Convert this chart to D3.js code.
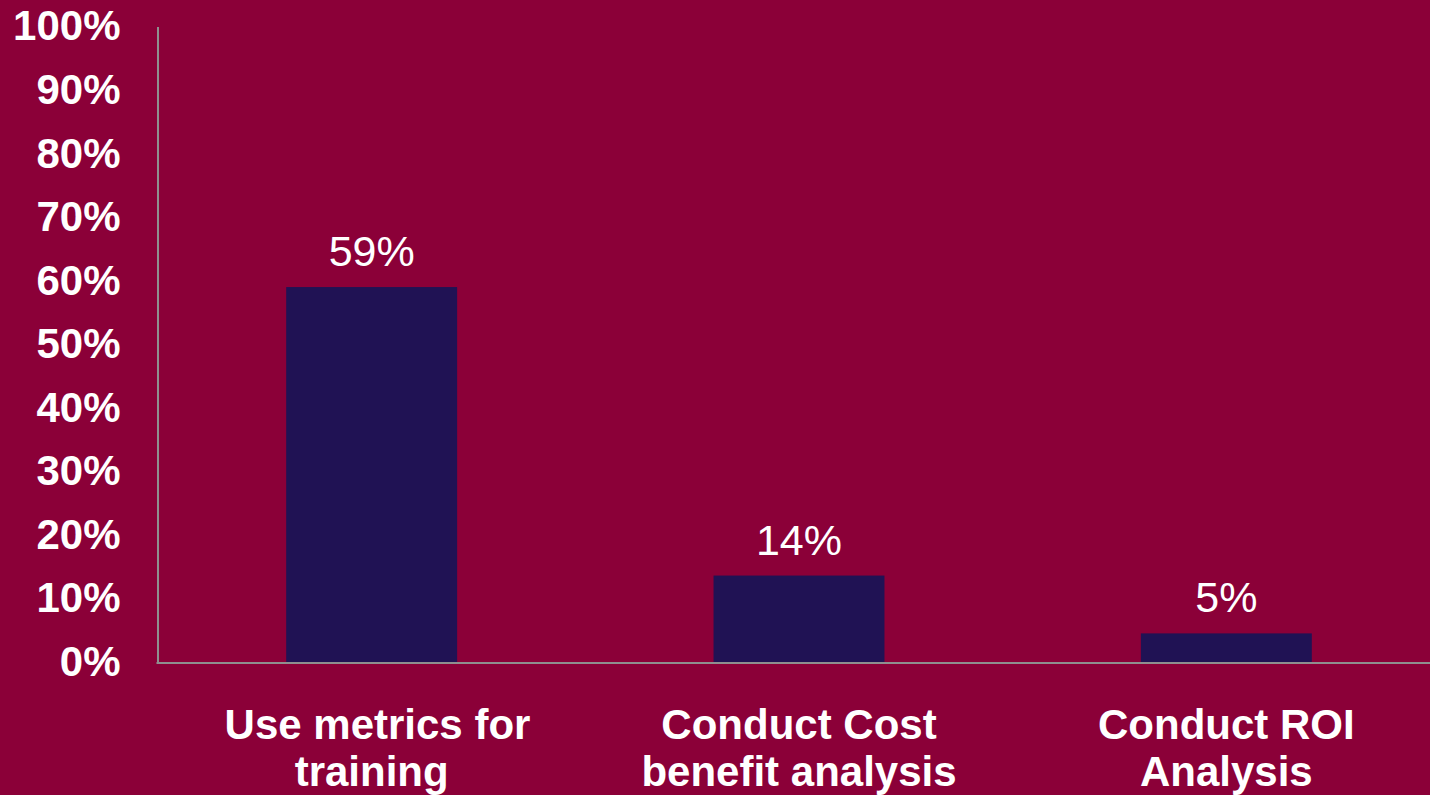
<!DOCTYPE html>
<html><head><meta charset="utf-8">
<script src="https://cdn.jsdelivr.net/npm/d3@7"></script>
<style>html,body{margin:0;padding:0;background:#8B0038;overflow:hidden}</style>
</head><body><svg id="c" width="1430" height="795"></svg>
<script>
const categories = [[" Use metrics for","training"],["Conduct Cost","benefit analysis"],["Conduct ROI","Analysis"]];
const values = [59, 13.6, 4.5];
const valueLabels = ["59%","14%","5%"];
const yTicks = [0,10,20,30,40,50,60,70,80,90,100];
const yTickLabels = yTicks.map(t => t + "%");

const svg = d3.select("#c");
svg.append("rect").attr("width",1430).attr("height",795).attr("fill","#8B0038");
const font = "'Liberation Sans', Arial, sans-serif";

const x = d3.scaleBand().domain(d3.range(categories.length)).range([158,1440]).paddingInner(0.6).paddingOuter(0.3);
const y = d3.scaleLinear().domain([0,100]).range([662,26.5]);

// bars
svg.selectAll("rect.bar").data(values).join("rect").attr("class","bar")
  .attr("x",(d,i)=>x(i)).attr("width",x.bandwidth())
  .attr("y",d=>y(d)).attr("height",d=>y(0)-y(d)).attr("fill","#201254");

// value labels
svg.selectAll("text.val").data(values).join("text").attr("class","val")
  .attr("x",(d,i)=>x(i)+x.bandwidth()/2).attr("y",d=>y(d)-21)
  .attr("text-anchor","middle").attr("fill","#fff")
  .style("font-family",font).style("font-size","43px")
  .text((d,i)=>valueLabels[i]);

// y axis
const yAxis = d3.axisLeft(y).tickValues(yTicks).tickFormat((d,i)=>yTickLabels[i]).tickSize(0).tickPadding(37);
const gy = svg.append("g").attr("transform","translate(157.5,0)").call(yAxis);
gy.select(".domain").attr("stroke","#8f8f8f").attr("stroke-width",2);
gy.selectAll("text").attr("fill","#fff").style("font-family",font).style("font-size","42px").style("font-weight","bold");

// x axis line
const xAxis = d3.axisBottom(x).tickSize(0).tickFormat("");
const gx = svg.append("g").attr("transform","translate(0,663)").call(xAxis);
gx.select(".domain").attr("stroke","#8f8f8f").attr("stroke-width",2).attr("d","M156.5,0H1430");

// category labels
categories.forEach((lines,i)=>{
  const t = svg.append("text").attr("text-anchor","middle").attr("fill","#fff")
    .style("white-space","pre")
    .style("font-family",font).style("font-size","42px").style("font-weight","bold");
  lines.forEach((l,j)=>{
    t.append("tspan").attr("x",x(i)+x.bandwidth()/2).attr("y",739+j*47).text(l);
  });
});
</script></body></html>
